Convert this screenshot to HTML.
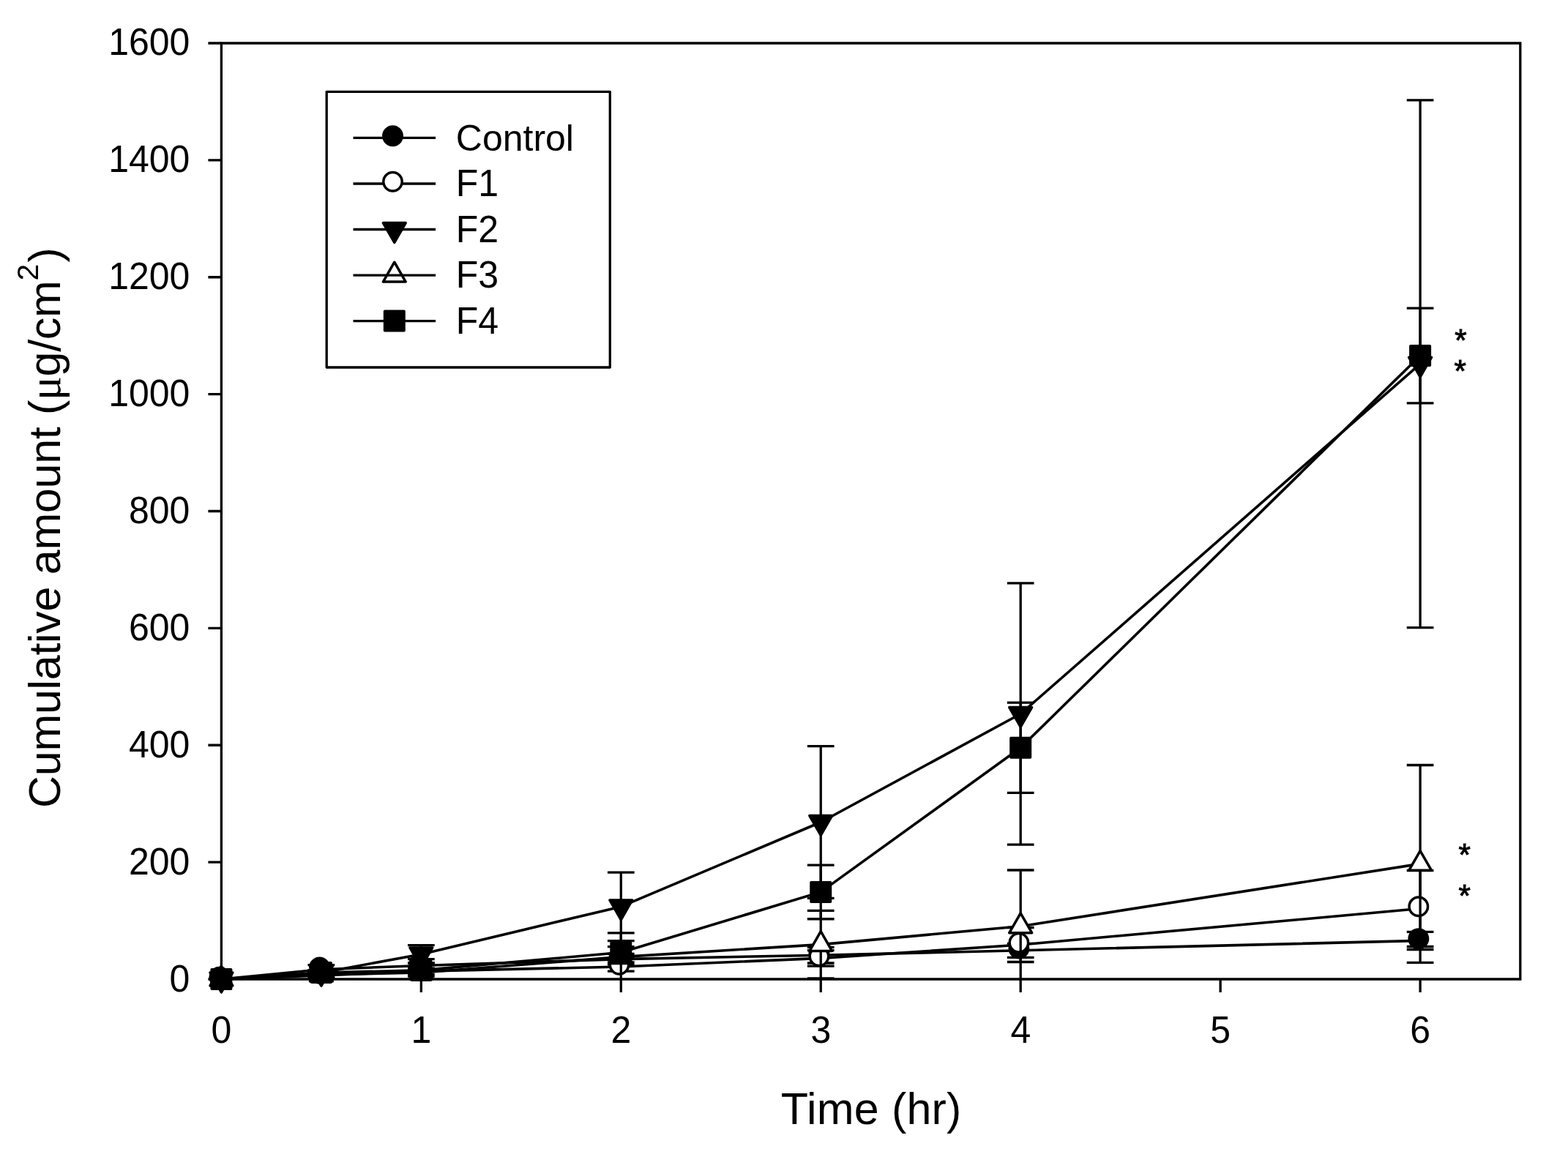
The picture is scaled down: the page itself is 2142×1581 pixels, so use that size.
<!DOCTYPE html>
<html lang="en"><head><meta charset="utf-8"><title>Cumulative amount vs Time</title>
<style>html,body{margin:0;padding:0;background:#fff}body{width:2142px;height:1581px;overflow:hidden}svg{display:block}text{font-family:"Liberation Sans",Arial,Helvetica,sans-serif;fill:#000}</style>
</head><body>
<svg width="2142" height="1581" viewBox="0 0 2142 1581">
<rect x="0" y="0" width="2142" height="1581" fill="#fff"/>
<g id="s-Control" fill="none" stroke="#000" stroke-width="3.3">
<polyline points="302.4,1338 438.88,1324.7 575.35,1319.5 848.3,1310.6 1121.25,1305.2 1394.2,1298.8 1940.1,1285.4" stroke-width="3.6" stroke-linejoin="round"/>
<path d="M438.88 1318.7V1330.7M420.52 1318.7H457.23M420.52 1330.7H457.23M575.35 1315.7V1323.3M557 1315.7H593.7M557 1323.3H593.7M848.3 1303.3V1317.9M829.95 1303.3H866.65M829.95 1317.9H866.65M1121.25 1294.4V1316M1102.9 1294.4H1139.6M1102.9 1316H1139.6M1394.2 1289.3V1308.3M1375.85 1289.3H1412.55M1375.85 1308.3H1412.55M1940.1 1273.3V1297.5M1921.75 1273.3H1958.45M1921.75 1297.5H1958.45"/>
<circle cx="300.1" cy="1335.3" r="12.7" fill="#000" stroke="#000" stroke-width="3.5"/>
<circle cx="436.57" cy="1322" r="12.7" fill="#000" stroke="#000" stroke-width="3.5"/>
<circle cx="573.05" cy="1316.8" r="12.7" fill="#000" stroke="#000" stroke-width="3.5"/>
<circle cx="846" cy="1307.9" r="12.7" fill="#000" stroke="#000" stroke-width="3.5"/>
<circle cx="1118.95" cy="1302.5" r="12.7" fill="#000" stroke="#000" stroke-width="3.5"/>
<circle cx="1391.9" cy="1296.1" r="12.7" fill="#000" stroke="#000" stroke-width="3.5"/>
<circle cx="1937.8" cy="1282.7" r="12.7" fill="#000" stroke="#000" stroke-width="3.5"/>
</g>
<g id="s-F1" fill="none" stroke="#000" stroke-width="3.3">
<polyline points="302.4,1338 438.88,1333 575.35,1327.1 848.3,1321 1121.25,1309.4 1394.2,1291 1940.1,1241.5" stroke-width="3.6" stroke-linejoin="round"/>
<path d="M438.88 1330V1336M420.52 1330H457.23M420.52 1336H457.23M575.35 1323.1V1331.1M557 1323.1H593.7M557 1331.1H593.7M848.3 1314.8V1327.2M829.95 1314.8H866.65M829.95 1327.2H866.65M1121.25 1298.6V1320.2M1102.9 1298.6H1139.6M1102.9 1320.2H1139.6M1394.2 1267.5V1314.5M1375.85 1267.5H1412.55M1375.85 1314.5H1412.55M1940.1 1189.5V1293.5M1921.75 1189.5H1958.45M1921.75 1293.5H1958.45"/>
<circle cx="300.1" cy="1335.3" r="12.7" fill="#fff" stroke="#000" stroke-width="3.5"/>
<circle cx="436.57" cy="1330.3" r="12.7" fill="#fff" stroke="#000" stroke-width="3.5"/>
<circle cx="573.05" cy="1324.4" r="12.7" fill="#fff" stroke="#000" stroke-width="3.5"/>
<circle cx="846" cy="1318.3" r="12.7" fill="#fff" stroke="#000" stroke-width="3.5"/>
<circle cx="1118.95" cy="1306.7" r="12.7" fill="#fff" stroke="#000" stroke-width="3.5"/>
<circle cx="1391.9" cy="1288.3" r="12.7" fill="#fff" stroke="#000" stroke-width="3.5"/>
<circle cx="1937.8" cy="1238.8" r="12.7" fill="#fff" stroke="#000" stroke-width="3.5"/>
</g>
<g id="s-F2" fill="none" stroke="#000" stroke-width="3.3">
<polyline points="302.4,1338 438.88,1329.2 575.35,1303.9 848.3,1238.9 1121.25,1123.5 1394.2,975.5 1940.1,497.2" stroke-width="3.6" stroke-linejoin="round"/>
<path d="M438.88 1326.2V1332.2M420.52 1326.2H457.23M420.52 1332.2H457.23M575.35 1291.6V1316.2M557 1291.6H593.7M557 1316.2H593.7M848.3 1192.2V1285.6M829.95 1192.2H866.65M829.95 1285.6H866.65M1121.25 1019.7V1227.3M1102.9 1019.7H1139.6M1102.9 1227.3H1139.6M1394.2 796.8V1154.2M1375.85 796.8H1412.55M1375.85 1154.2H1412.55M1940.1 136.8V857.6M1921.75 136.8H1958.45M1921.75 857.6H1958.45"/>
<path d="M287 1329.07L317.8 1329.07L302.4 1355.87Z" fill="#000" stroke="#000" stroke-width="3.5" stroke-linejoin="round"/>
<path d="M423.48 1320.27L454.27 1320.27L438.88 1347.07Z" fill="#000" stroke="#000" stroke-width="3.5" stroke-linejoin="round"/>
<path d="M559.95 1294.97L590.75 1294.97L575.35 1321.77Z" fill="#000" stroke="#000" stroke-width="3.5" stroke-linejoin="round"/>
<path d="M832.9 1229.97L863.7 1229.97L848.3 1256.77Z" fill="#000" stroke="#000" stroke-width="3.5" stroke-linejoin="round"/>
<path d="M1105.85 1114.57L1136.65 1114.57L1121.25 1141.37Z" fill="#000" stroke="#000" stroke-width="3.5" stroke-linejoin="round"/>
<path d="M1378.8 966.57L1409.6 966.57L1394.2 993.37Z" fill="#000" stroke="#000" stroke-width="3.5" stroke-linejoin="round"/>
<path d="M1924.7 488.27L1955.5 488.27L1940.1 515.07Z" fill="#000" stroke="#000" stroke-width="3.5" stroke-linejoin="round"/>
</g>
<g id="s-F3" fill="none" stroke="#000" stroke-width="3.3">
<polyline points="302.4,1338 438.88,1332 575.35,1329 848.3,1307.6 1121.25,1290.6 1394.2,1265.7 1940.1,1180.4" stroke-width="3.6" stroke-linejoin="round"/>
<path d="M438.88 1329V1335M420.52 1329H457.23M420.52 1335H457.23M575.35 1324V1334M557 1324H593.7M557 1334H593.7M848.3 1274.96V1338M829.95 1274.96H866.65M1121.25 1244.3V1336.9M1102.9 1244.3H1139.6M1102.9 1336.9H1139.6M1394.2 1189V1338M1375.85 1189H1412.55M1940.1 1045.5V1315.3M1921.75 1045.5H1958.45M1921.75 1315.3H1958.45"/>
<path d="M287 1346.93L317.8 1346.93L302.4 1320.13Z" fill="#fff" stroke="#000" stroke-width="3.5" stroke-linejoin="round"/>
<path d="M423.48 1340.93L454.27 1340.93L438.88 1314.13Z" fill="#fff" stroke="#000" stroke-width="3.5" stroke-linejoin="round"/>
<path d="M559.95 1337.93L590.75 1337.93L575.35 1311.13Z" fill="#fff" stroke="#000" stroke-width="3.5" stroke-linejoin="round"/>
<path d="M832.9 1316.53L863.7 1316.53L848.3 1289.73Z" fill="#fff" stroke="#000" stroke-width="3.5" stroke-linejoin="round"/>
<path d="M1105.85 1299.53L1136.65 1299.53L1121.25 1272.73Z" fill="#fff" stroke="#000" stroke-width="3.5" stroke-linejoin="round"/>
<path d="M1378.8 1274.63L1409.6 1274.63L1394.2 1247.83Z" fill="#fff" stroke="#000" stroke-width="3.5" stroke-linejoin="round"/>
<path d="M1924.7 1189.33L1955.5 1189.33L1940.1 1162.53Z" fill="#fff" stroke="#000" stroke-width="3.5" stroke-linejoin="round"/>
</g>
<g id="s-F4" fill="none" stroke="#000" stroke-width="3.3">
<polyline points="302.4,1338 438.88,1329 575.35,1325.9 848.3,1301.5 1121.25,1218.9 1394.2,1021.8 1940.1,486" stroke-width="3.6" stroke-linejoin="round"/>
<path d="M438.88 1326V1332M420.52 1326H457.23M420.52 1332H457.23M575.35 1310.7V1338M557 1310.7H593.7M848.3 1293.7V1309.3M829.95 1293.7H866.65M829.95 1309.3H866.65M1121.25 1182.05V1255.75M1102.9 1182.05H1139.6M1102.9 1255.75H1139.6M1394.2 960.2V1083.4M1375.85 960.2H1412.55M1375.85 1083.4H1412.55M1940.1 421.2V550.8M1921.75 421.2H1958.45M1921.75 550.8H1958.45"/>
<rect x="289.15" y="1324.75" width="26.5" height="26.5" fill="#000" stroke="#000" stroke-width="3.5" stroke-linejoin="round"/>
<rect x="425.62" y="1315.75" width="26.5" height="26.5" fill="#000" stroke="#000" stroke-width="3.5" stroke-linejoin="round"/>
<rect x="562.1" y="1312.65" width="26.5" height="26.5" fill="#000" stroke="#000" stroke-width="3.5" stroke-linejoin="round"/>
<rect x="835.05" y="1288.25" width="26.5" height="26.5" fill="#000" stroke="#000" stroke-width="3.5" stroke-linejoin="round"/>
<rect x="1108" y="1205.65" width="26.5" height="26.5" fill="#000" stroke="#000" stroke-width="3.5" stroke-linejoin="round"/>
<rect x="1380.95" y="1008.55" width="26.5" height="26.5" fill="#000" stroke="#000" stroke-width="3.5" stroke-linejoin="round"/>
<rect x="1926.85" y="472.75" width="26.5" height="26.5" fill="#000" stroke="#000" stroke-width="3.5" stroke-linejoin="round"/>
</g>
<g fill="none" stroke="#000" stroke-width="3.3">
<path d="M302.4 59H2076.8V1338H302.4Z"/>
<path d="M302.4 1338V1356M575.35 1338V1356M848.3 1338V1356M1121.25 1338V1356M1394.2 1338V1356M1667.15 1338V1356M1940.1 1338V1356M302.4 1338H284.4M302.4 1178.12H284.4M302.4 1018.25H284.4M302.4 858.37H284.4M302.4 698.5H284.4M302.4 538.62H284.4M302.4 378.74H284.4M302.4 218.87H284.4M302.4 58.99H284.4"/>
</g>
<g font-size="50">
<text transform="translate(302.5 1425.1) scale(1 1.03)" text-anchor="middle">0</text>
<text transform="translate(575.45 1425.1) scale(1 1.03)" text-anchor="middle">1</text>
<text transform="translate(848.4 1425.1) scale(1 1.03)" text-anchor="middle">2</text>
<text transform="translate(1121.35 1425.1) scale(1 1.03)" text-anchor="middle">3</text>
<text transform="translate(1394.3 1425.1) scale(1 1.03)" text-anchor="middle">4</text>
<text transform="translate(1667.25 1425.1) scale(1 1.03)" text-anchor="middle">5</text>
<text transform="translate(1940.2 1425.1) scale(1 1.03)" text-anchor="middle">6</text>
<text transform="translate(259.4 1354.5) scale(1 1.03)" text-anchor="end">0</text>
<text transform="translate(259.4 1194.62) scale(1 1.03)" text-anchor="end">200</text>
<text transform="translate(259.4 1034.75) scale(1 1.03)" text-anchor="end">400</text>
<text transform="translate(259.4 874.87) scale(1 1.03)" text-anchor="end">600</text>
<text transform="translate(259.4 715) scale(1 1.03)" text-anchor="end">800</text>
<text transform="translate(259.4 555.12) scale(1 1.03)" text-anchor="end">1000</text>
<text transform="translate(259.4 395.24) scale(1 1.03)" text-anchor="end">1200</text>
<text transform="translate(259.4 235.37) scale(1 1.03)" text-anchor="end">1400</text>
<text transform="translate(259.4 75.49) scale(1 1.03)" text-anchor="end">1600</text>
</g>
<text x="1190.2" y="1535.9" font-size="61" letter-spacing="0.2" text-anchor="middle">Time (hr)</text>
<text transform="translate(82.1 1104) rotate(-90)" font-size="61" letter-spacing="-0.3" text-anchor="start">Cumulative amount (<tspan font-family="'Liberation Serif',serif" font-size="61">μ</tspan>g/cm<tspan dy="-30.1" font-size="41">2</tspan><tspan dy="30.1" dx="2.5">)</tspan></text>
<text x="1995.5" y="478.95" font-size="42" stroke="#000" stroke-width="1.0" stroke-linejoin="miter" text-anchor="middle">*</text>
<text x="1994.7" y="520.85" font-size="42" stroke="#000" stroke-width="1.0" stroke-linejoin="miter" text-anchor="middle">*</text>
<text x="2000.6" y="1182.25" font-size="42" stroke="#000" stroke-width="1.0" stroke-linejoin="miter" text-anchor="middle">*</text>
<text x="2000.6" y="1237.95" font-size="42" stroke="#000" stroke-width="1.0" stroke-linejoin="miter" text-anchor="middle">*</text>
<rect x="446.2" y="125.3" width="387.1" height="376.7" fill="#fff" stroke="#000" stroke-width="3.3" stroke-linejoin="round"/>
<path d="M482.5 188.4H595.1" fill="none" stroke="#000" stroke-width="3.3"/>
<circle cx="536.5" cy="185.7" r="12.7" fill="#000" stroke="#000" stroke-width="3.5"/>
<text x="622.8" y="206" font-size="50">Control</text>
<path d="M482.5 251H595.1" fill="none" stroke="#000" stroke-width="3.3"/>
<circle cx="536.5" cy="248.3" r="12.7" fill="#fff" stroke="#000" stroke-width="3.5"/>
<text transform="translate(622.8 268.3) scale(1 1.03)" font-size="50">F1</text>
<path d="M482.5 313.5H595.1" fill="none" stroke="#000" stroke-width="3.3"/>
<path d="M523.4 304.57L554.2 304.57L538.8 331.37Z" fill="#000" stroke="#000" stroke-width="3.5" stroke-linejoin="round"/>
<text transform="translate(622.8 330.8) scale(1 1.03)" font-size="50">F2</text>
<path d="M523.4 385.03L554.2 385.03L538.8 358.23Z" fill="#fff" stroke="#000" stroke-width="3.5" stroke-linejoin="round"/>
<path d="M482.5 376.1H595.1" fill="none" stroke="#000" stroke-width="3.3"/>
<text transform="translate(622.8 393.4) scale(1 1.03)" font-size="50">F3</text>
<path d="M482.5 438.6H595.1" fill="none" stroke="#000" stroke-width="3.3"/>
<rect x="525.55" y="425.35" width="26.5" height="26.5" fill="#000" stroke="#000" stroke-width="3.5" stroke-linejoin="round"/>
<text transform="translate(622.8 455.9) scale(1 1.03)" font-size="50">F4</text>
</svg>
</body></html>
